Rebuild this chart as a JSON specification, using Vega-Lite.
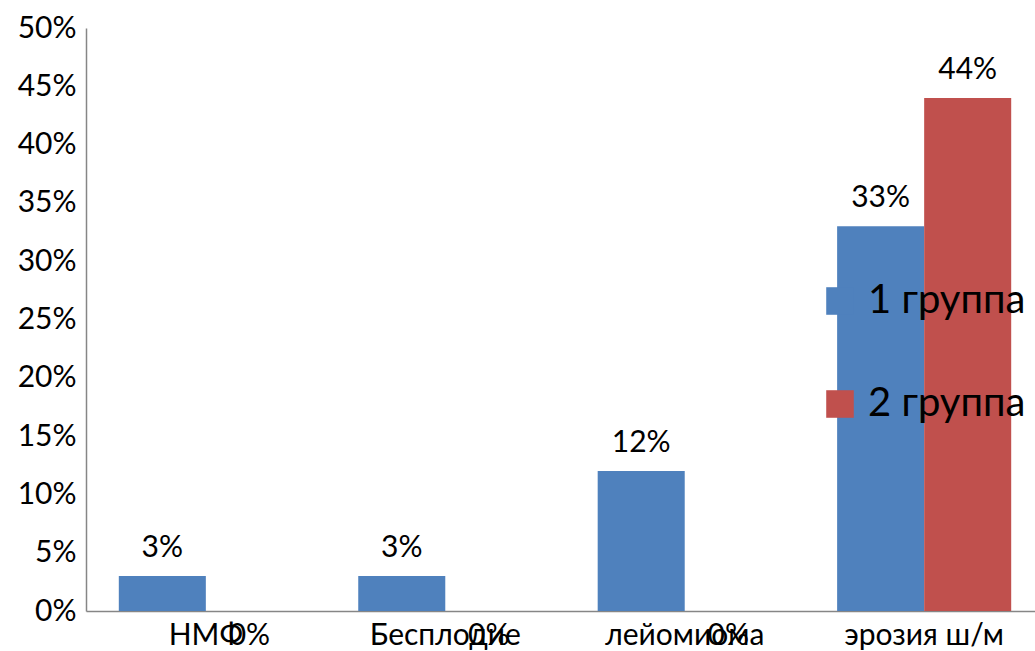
{
  "$schema": "https://vega.github.io/schema/vega-lite/v6.json",
  "autosize": "none",
  "padding": {"left": 86, "top": 28, "right": 0, "bottom": 40},
  "width": 958,
  "height": 583,
  "config": {"font": "Lato", "view": {"stroke": null}},
  "data": {"values": [
    {"cat": "НМФ", "group": "1 группа", "value": 0.03},
    {"cat": "НМФ", "group": "2 группа", "value": 0.0},
    {"cat": "Бесплодие", "group": "1 группа", "value": 0.03},
    {"cat": "Бесплодие", "group": "2 группа", "value": 0.0},
    {"cat": "лейомиома", "group": "1 группа", "value": 0.12},
    {"cat": "лейомиома", "group": "2 группа", "value": 0.0},
    {"cat": "эрозия ш/м", "group": "1 группа", "value": 0.33},
    {"cat": "эрозия ш/м", "group": "2 группа", "value": 0.44}
  ]},
  "encoding": {
    "x": {"field": "cat", "type": "nominal", "sort": null,
      "scale": {"paddingInner": 0.273, "paddingOuter": 0.137},
      "axis": {"title": null, "labelAngle": 0, "labelFontSize": 30, "labelColor": "#000000", "labelPadding": 9, "ticks": false, "domainColor": "#868686", "domainWidth": 1.5, "labelFont": "Lato", "labelOverlap": false, "labelBound": false}},
    "xOffset": {"field": "group", "type": "nominal", "scale": {"paddingInner": 0, "paddingOuter": 0}},
    "y": {"field": "value", "type": "quantitative",
      "scale": {"domain": [0, 0.5], "nice": false},
      "axis": {"title": null, "format": ".0%", "values": [0, 0.05, 0.1, 0.15, 0.2, 0.25, 0.3, 0.35, 0.4, 0.45, 0.5], "labelFontSize": 30, "labelColor": "#000000", "labelPadding": 10, "ticks": false, "grid": false, "domainColor": "#868686", "domainWidth": 1.5, "labelFont": "Lato", "labelOverlap": false}}
  },
  "layer": [
    {"mark": {"type": "bar"},
     "encoding": {"color": {"field": "group", "type": "nominal",
       "scale": {"range": ["#4F81BD", "#C0504D"]},
       "legend": {"title": null, "orient": "none", "legendX": 734, "legendY": 253, "symbolType": "square", "symbolSize": 760, "symbolStrokeWidth": 0, "labelFontSize": 40, "labelColor": "#000000", "labelOffset": 8, "rowPadding": 63, "labelFont": "Lato", "symbolOpacity": 1}}}},
    {"transform": [{"filter": "datum.value > 0"}],
     "mark": {"type": "text", "baseline": "middle", "dy": -28, "fontSize": 30, "color": "#000000"},
     "encoding": {"text": {"field": "value", "format": ".0%"}}},
    {"transform": [{"filter": "datum.value == 0"}],
     "mark": {"type": "text", "baseline": "middle", "dy": 25, "fontSize": 30, "color": "#000000"},
     "encoding": {"text": {"field": "value", "format": ".0%"}}}
  ]
}
